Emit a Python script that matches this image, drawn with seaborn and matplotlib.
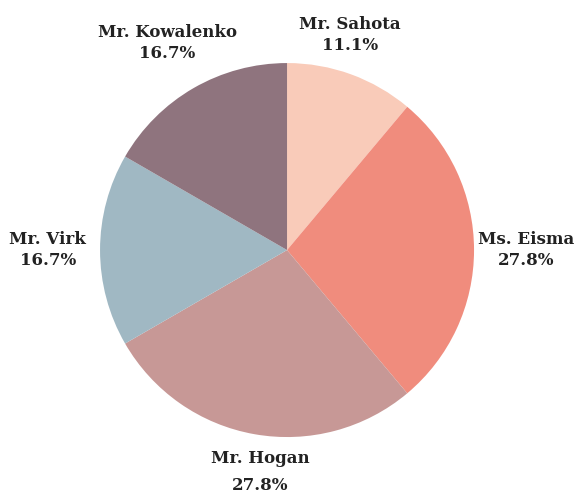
import matplotlib
matplotlib.use("Agg")
import matplotlib.pyplot as plt
import seaborn as sns
import numpy as np

sns.set_theme(style="white")
plt.rcParams['font.family'] = ['DejaVu Serif']

names = ["Mr. Sahota", "Ms. Eisma", "Mr. Hogan", "Mr. Virk", "Mr. Kowalenko"]
counts = [2, 5, 5, 3, 3]
colors = ["#F9CBB9", "#F08C7D", "#C79896", "#A0B8C3", "#8F747E"]

fig = plt.figure(figsize=(5.81, 4.93), dpi=100)
ax = fig.add_axes([0, 0, 1, 1])

total = sum(counts)
labels = [f"{n}\n{c / total * 100:.1f}%" for n, c in zip(names, counts)]
wedges, texts = ax.pie(counts, colors=colors, startangle=90, counterclock=False,
                       labels=labels, labeldistance=1.28, radius=1.0,
                       wedgeprops=dict(linewidth=0),
                       textprops=dict(fontsize=12, fontweight='bold', color='#222222',
                                      ha='center', va='center', linespacing=1.3))
ax.set_xlim(-1.535, 1.572)
ax.set_ylim(-1.299, 1.337)
ax.set_aspect('equal')
ax.axis('off')

# per-label placement tweaks: (distance, angle offset in degrees)
tweaks = {0: (1.20, 3.7), 2: (1.196, 3.1)}
for i, (t, w) in enumerate(zip(texts, wedges)):
    t.set_ha('center')
    t.set_va('center')
    if i in tweaks:
        d, off = tweaks[i]
        ang = np.deg2rad((w.theta1 + w.theta2) / 2 + off)
        t.set_position((d * np.cos(ang), d * np.sin(ang)))
texts[2].set_linespacing(1.75)
fig.savefig("out.png", dpi=100)
